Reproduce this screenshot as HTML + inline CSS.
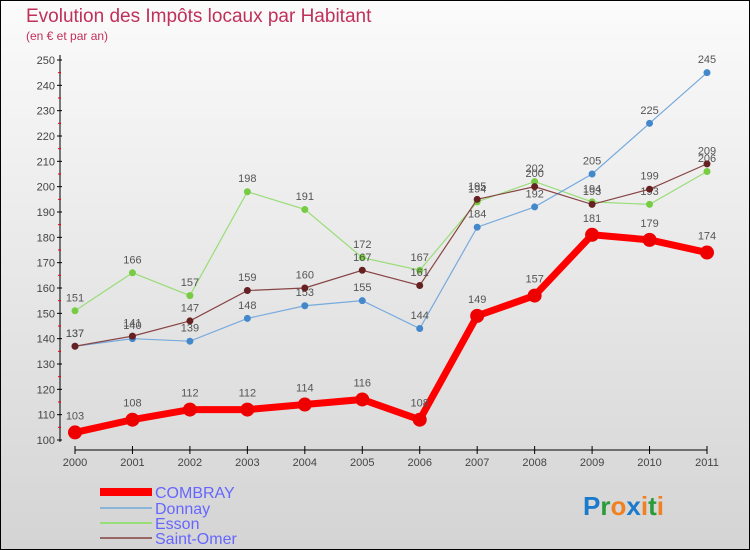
<!DOCTYPE html>
<html><head><meta charset="utf-8"><style>
body{margin:0;width:750px;height:550px;overflow:hidden;font-family:"Liberation Sans",sans-serif}
#wrap{position:absolute;left:0;top:0;width:748px;height:548px;border:1px solid #000;background:linear-gradient(#fbfbfb,#d4d4d4)}
</style></head><body>
<div id="wrap">
<svg id="chart" width="750" height="550" style="position:absolute;left:-1px;top:-1px">
<text x="26" y="22" font-size="19" fill="#c0305a">Evolution des Impôts locaux par Habitant</text>
<text x="26" y="40" font-size="12" fill="#c0305a">(en € et par an)</text>
<g id="axes"></g><g id="series"></g>
<g>
<rect x="100" y="488" width="52" height="8" fill="#f00"/>
<text x="155" y="498" font-size="16" fill="#6666ff">COMBRAY</text>
<line x1="100" y1="508" x2="152" y2="508" stroke="#8ab4d8" stroke-width="2"/>
<text x="155" y="514" font-size="16" fill="#6666ff">Donnay</text>
<line x1="100" y1="523" x2="152" y2="523" stroke="#99dd77" stroke-width="2"/>
<text x="155" y="529" font-size="16" fill="#6666ff">Esson</text>
<line x1="100" y1="538" x2="152" y2="538" stroke="#996666" stroke-width="2"/>
<text x="155" y="544" font-size="16" fill="#6666ff">Saint-Omer</text>
</g>
<text x="583" y="515" font-size="26" font-weight="bold"><tspan fill="#1a7acc">P</tspan><tspan fill="#2a9a3a">r</tspan><tspan fill="#f08020">o</tspan><tspan fill="#1a7acc">x</tspan><tspan fill="#f08020">i</tspan><tspan fill="#2a9a3a">t</tspan><tspan fill="#f08020">i</tspan></text>
</svg></div>
<script>
const years=[2000,2001,2002,2003,2004,2005,2006,2007,2008,2009,2010,2011];
const yTicks=[100,110,120,130,140,150,160,170,180,190,200,210,220,230,240,250];
const combray=[103,108,112,112,114,116,108,149,157,181,179,174];
const donnay=[137,140,139,148,153,155,144,184,192,205,225,245];
const esson=[151,166,157,198,191,172,167,194,202,194,193,206];
const saintOmer=[137,141,147,159,160,167,161,195,200,193,199,209];
const NS="http://www.w3.org/2000/svg";
const X=i=>75+i*(707-75)/11;
const Y=v=>440-(v-100)*(380/150);
function mk(t,a,p){const e=document.createElementNS(NS,t);for(const k in a)e.setAttribute(k,a[k]);p.appendChild(e);return e;}
const ax=document.getElementById('axes'),sg=document.getElementById('series');
let l=mk('line',{x1:60,y1:55,x2:60,y2:442,stroke:'#000'},ax);


l=mk('line',{x1:75,y1:450,x2:707,y2:450,stroke:'#000'},ax);


yTicks.forEach(v=>{mk('line',{x1:57,y1:Y(v),x2:62,y2:Y(v),stroke:'#000'},ax);
if(v<250)mk('line',{x1:58,y1:Y(v+5),x2:61,y2:Y(v+5),stroke:'#e00'},ax);
const t=mk('text',{x:55,y:Y(v)+4,'font-size':11,fill:'#444','text-anchor':'end'},ax);t.textContent=v;

});
years.forEach((yr,i)=>{mk('line',{x1:X(i),y1:446,x2:X(i),y2:454,stroke:'#000'},ax);
const t=mk('text',{x:X(i),y:466,'font-size':11,fill:'#444','text-anchor':'middle'},ax);t.textContent=yr;

});
function draw(d,col,dot,w,r,name){
const p=mk('polyline',{points:d.map((v,i)=>X(i)+','+Y(v)).join(' '),fill:'none',stroke:col,'stroke-width':w},sg);


d.forEach((v,i)=>{const c=mk('circle',{cx:X(i),cy:Y(v),r:r,fill:dot},sg);


const t=mk('text',{x:X(i),y:Y(v)-(r+6),'font-size':11,fill:'#555','text-anchor':'middle'},sg);t.textContent=v;

});}
draw(esson,'#99dd77','#77cc44',1.2,3.5,'esson');
draw(donnay,'#77aadd','#4488cc',1.2,3.5,'donnay');
draw(saintOmer,'#884444','#662222',1.2,3.5,'saint-omer');
draw(combray,'#f00','#e00',7,7,'combray');
</script>
</body></html>
